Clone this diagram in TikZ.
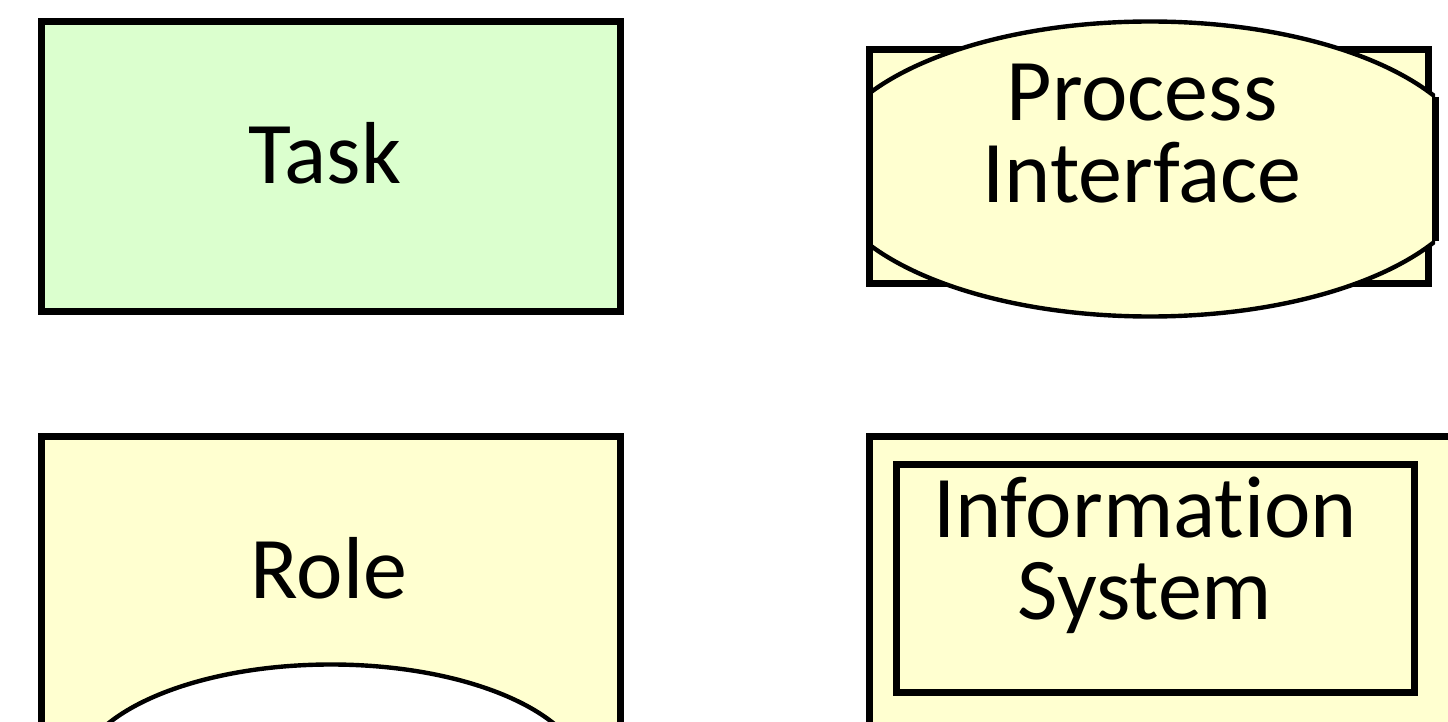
\documentclass[tikz,border=0pt]{standalone}
\usepackage{fontspec}
\setmainfont[Ligatures = {NoCommon, NoRare, NoContextual}]{Carlito}
\usetikzlibrary{positioning}
\definecolor{taskgreen}{RGB}{219,255,206}
\definecolor{objyellow}{RGB}{255,255,208}

\begin{document}
\begin{tikzpicture}[x = 0.5pt, y = -0.5pt,
		frame/.style = {draw = black, line width = 3.5pt},
		curve/.style = {draw = black, line width = 2.2pt},
		caption/.style = {font = \fontsize{44}{41}\selectfont, anchor = base, align = center, inner sep = 0pt}]
	\useasboundingbox (0, 0) rectangle (1448, 722);
	\clip (0, 0) rectangle (1448, 722);
	% task
	\draw [frame, fill = taskgreen] (41.5, 21.5) rectangle (620, 312);
	\node [caption] (task) at (325, 184) {Task};
	% process interface
	\draw [frame, fill = objyellow] (869.5, 49.5) rectangle (1428.5, 283.5);
	\begin{scope}
		\clip (869.5, 0) rectangle (1435, 400);
		\draw [curve, fill = objyellow] (1150, 169) ellipse [x radius = 327, y radius = 147.5];
	\end{scope}
	\draw [frame] (869.5, 49.5) -- (869.5, 283.5);
	\draw [frame] (1435, 97) -- (1435, 241);
	\node [caption] (iface) at (1142, 203) {Process\\Interface};
	% role
	\draw [frame, fill = objyellow] (41.5, 436.5) rectangle (620, 780);
	\begin{scope}
		\clip (45, 440) rectangle (616.5, 780);
		\draw [curve, fill = white] (331, 779.5) ellipse [x radius = 255, y radius = 115];
	\end{scope}
	\node [caption] (role) at (329, 598) {Role};
	% information system
	\draw [frame, fill = objyellow] (869.5, 436.5) rectangle (1480, 780);
	\draw [frame] (896.5, 464.5) rectangle (1414.5, 692.5);
	\node [caption] (infosys) at (1145, 619) {Information\\System};
\end{tikzpicture}
\end{document}
